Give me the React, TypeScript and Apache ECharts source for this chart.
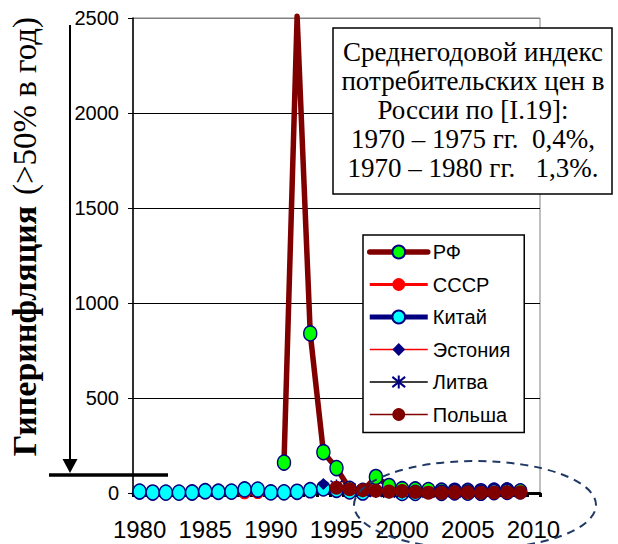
import React, { useEffect, useRef } from 'react';
import * as echarts from 'echarts';

const YEARS = [
  '1980', '1981', '1982', '1983', '1984', '1985', '1986', '1987', '1988', '1989',
  '1990', '1991', '1992', '1993', '1994', '1995', '1996', '1997', '1998', '1999',
  '2000', '2001', '2002', '2003', '2004', '2005', '2006', '2007', '2008', '2009', '2010',
];
const X_LABELS_EVERY = 5;
const Y_TICKS = [0, 500, 1000, 1500, 2000, 2500];

// Россия (РФ), 1991–2009
const RF_FROM = 1991;
const RF = [160, 2509, 840, 215, 131, 22, 11, 84, 36.5, 20.2, 18.6, 15.1, 12, 11.7, 10.9, 9, 11.9, 13.3, 8.8];
// СССР, 1980–1990
const USSR_FROM = 1980;
const USSR = [3, 1.5, 2.5, 1, 1.5, 1, 2, 1, 1, 2, 5.3];
// Китай, 1980–2009
const CHINA_FROM = 1980;
const CHINA = [7.5, 2.5, 2, 2, 2.7, 9.3, 6.5, 7.3, 18.8, 18, 3.1, 3.4, 6.4, 14.7, 24.1, 17.1, 8.3, 2.8, -0.8, -1.4, 0.4, 0.7, -0.8, 1.2, 3.9, 1.8, 1.5, 4.8, 5.9, -0.7];
// Эстония, 1994–2009
const ESTONIA_FROM = 1994;
const ESTONIA = [48, 29, 23.1, 11.2, 8.2, 3.3, 4, 5.8, 3.6, 1.4, 3, 4.1, 4.4, 6.6, 10.4, -0.1];
// Литва, 1995–2009
const LITHUANIA_FROM = 1995;
const LITHUANIA = [39.6, 24.6, 8.9, 5.1, 0.8, 1, 1.3, 0.3, -1.2, 1.2, 2.7, 3.8, 5.8, 11.1, 4.2];
// Польша, 1995–2009
const POLAND_FROM = 1995;
const POLAND = [27.8, 19.9, 14.9, 11.8, 7.3, 10.1, 5.5, 1.9, 0.8, 3.5, 2.1, 1, 2.5, 4.2, 3.5];

const NOTE_LINES = [
  'Среднегодовой индекс',
  'потребительских цен в',
  'России по [I.19]:',
  '1970 – 1975 гг.  0,4%,',
  '1970 – 1980 гг.   1,3%.',
];
const Y_TITLE_BOLD = 'Гиперинфляция';
const Y_TITLE_NOTE = '(>50% в год)';

function align(from: number, vals: number[]) {
  return YEARS.map((y) => {
    const i = Number(y) - from;
    return i >= 0 && i < vals.length ? vals[i] : null;
  });
}

const SANS = '"Liberation Sans", Arial, sans-serif';
const SERIF = '"Liberation Serif", "Times New Roman", serif';

export default function App() {
  const ref = useRef<HTMLDivElement>(null);
  useEffect(() => {
    if (!ref.current) return;
    const chart = echarts.init(ref.current, undefined, { renderer: 'svg' });
    const rfMax = Math.max(...RF);
    const rfData = align(RF_FROM, RF).map((v) =>
      v === rfMax ? { value: v, symbol: 'none' } : v
    );
    const option: any = {
      animation: false,
      grid: {
        left: 133, right: 78, top: 18, bottom: 51,
        show: true, borderColor: '#808080', borderWidth: 1, backgroundColor: 'transparent',
      },
      xAxis: {
        type: 'category',
        data: YEARS,
        boundaryGap: true,
        axisLine: { lineStyle: { color: '#000', width: 3 } },
        axisTick: { show: true, interval: 0, length: 4, lineStyle: { color: '#000', width: 3 } },
        axisLabel: {
          interval: X_LABELS_EVERY - 1, color: '#000', fontSize: 24, fontFamily: SANS, margin: 24,
        },
        splitLine: { show: false },
      },
      yAxis: {
        type: 'value',
        min: Y_TICKS[0],
        max: Y_TICKS[Y_TICKS.length - 1],
        interval: Y_TICKS[1] - Y_TICKS[0],
        axisLine: { show: true, lineStyle: { color: '#000', width: 1.5 } },
        axisTick: { show: true, length: 5, lineStyle: { color: '#000', width: 1 } },
        axisLabel: {
          color: '#000', fontSize: 20, fontFamily: SANS, margin: 14,
          formatter: (v: number) => String(v),
        },
        splitLine: {
          show: true,
          lineStyle: { color: ['#000', '#000', '#000', '#000', '#000', '#808080'], width: 1 },
        },
      },
      legend: {
        orient: 'vertical',
        left: 363,
        top: 235,
        padding: [7, 14, 8, 4],
        itemGap: 12.5,
        itemWidth: 58,
        itemHeight: 16,
        backgroundColor: '#fff',
        borderColor: '#000',
        borderWidth: 1.5,
        borderRadius: 0,
        z: 12,
        textStyle: { fontSize: 20, fontFamily: SANS, color: '#000', lineHeight: 20 },
        data: [
          { name: 'РФ', lineStyle: { width: 5.5 } },
          { name: 'СССР', lineStyle: { width: 3 } },
          { name: 'Китай', lineStyle: { width: 5 } },
          { name: 'Эстония', lineStyle: { width: 1.5 } },
          { name: 'Литва', lineStyle: { width: 1.5 } },
          { name: 'Польша', lineStyle: { width: 1.5 } },
        ],
      },
      graphic: [
        {
          type: 'rect', z: 10,
          shape: { x: 333, y: 28, width: 279, height: 166 },
          style: { fill: '#fff', stroke: '#000', lineWidth: 1.5 },
        },
        {
          type: 'text', z: 11, x: 473, y: 110,
          style: {
            text: NOTE_LINES.join('\n'),
            fontSize: 27, fontFamily: SERIF, lineHeight: 29, fill: '#000',
            align: 'center', verticalAlign: 'middle',
            textAlign: 'center', textVerticalAlign: 'middle',
          },
        },
        {
          type: 'text', z: 11, x: 24, y: 331, rotation: Math.PI / 2,
          style: {
            text: Y_TITLE_BOLD,
            font: 'bold 34px "Liberation Serif", "Times New Roman", serif',
            fill: '#000',
            align: 'center', verticalAlign: 'middle',
            textAlign: 'center', textVerticalAlign: 'middle',
          },
        },
        {
          type: 'text', z: 11, x: 25, y: 106, rotation: Math.PI / 2,
          style: {
            text: Y_TITLE_NOTE,
            font: '33px "Liberation Serif", "Times New Roman", serif',
            fill: '#000',
            align: 'center', verticalAlign: 'middle',
            textAlign: 'center', textVerticalAlign: 'middle',
          },
        },
        {
          type: 'line', z: 11,
          shape: { x1: 70, y1: 25, x2: 70, y2: 462 },
          style: { stroke: '#000', lineWidth: 2 },
        },
        {
          type: 'polygon', z: 11,
          shape: { points: [[62.5, 459], [77.5, 459], [70, 473]] },
          style: { fill: '#000' },
        },
        {
          type: 'line', z: 11,
          shape: { x1: 49, y1: 475, x2: 168, y2: 475 },
          style: { stroke: '#000', lineWidth: 3.5 },
        },
        {
          type: 'ellipse', z: 20,
          shape: { cx: 475, cy: 505, rx: 121, ry: 44 },
          style: { fill: 'none', stroke: '#1f3864', lineWidth: 2, lineDash: [8, 6] },
        },
      ],
      series: [
        {
          name: 'РФ', type: 'line', data: rfData, clip: false, showAllSymbol: true,
          symbol: 'circle', symbolSize: [13, 15],
          itemStyle: { color: '#00ff00', borderColor: '#000080', borderWidth: 1.5 },
          lineStyle: { color: '#800000', width: 5.5, join: 'round', cap: 'round' },
        },
        {
          name: 'СССР', type: 'line', data: align(USSR_FROM, USSR), showAllSymbol: true,
          symbol: 'circle', symbolSize: 13,
          itemStyle: { color: '#ff0000' },
          lineStyle: { color: '#ff0000', width: 3, join: 'round' },
        },
        {
          name: 'Китай', type: 'line', data: align(CHINA_FROM, CHINA), showAllSymbol: true,
          symbol: 'circle', symbolSize: [13, 15],
          itemStyle: { color: '#00ffff', borderColor: '#000080', borderWidth: 1.5 },
          lineStyle: { color: '#000080', width: 5, join: 'round' },
        },
        {
          name: 'Эстония', type: 'line', data: align(ESTONIA_FROM, ESTONIA), showAllSymbol: true,
          symbol: 'diamond', symbolSize: 12,
          itemStyle: { color: '#000080' },
          lineStyle: { color: '#ff0000', width: 1.5 },
        },
        {
          name: 'Литва', type: 'line', data: align(LITHUANIA_FROM, LITHUANIA), showAllSymbol: true,
          symbol: 'path://M5,0L5,10M0,1L10,9M0,9L10,1', symbolSize: 12,
          itemStyle: { color: 'none', borderColor: '#000080', borderWidth: 1.5 },
          lineStyle: { color: '#000', width: 1.5 },
        },
        {
          name: 'Польша', type: 'line', data: align(POLAND_FROM, POLAND), showAllSymbol: true,
          symbol: 'circle', symbolSize: 14,
          itemStyle: { color: '#800000' },
          lineStyle: { color: '#800000', width: 1.5 },
        },
      ],
    };
    chart.setOption(option);
    return () => chart.dispose();
  }, []);
  return (
    <div
      ref={ref}
      style={{ position: 'fixed', left: 0, top: 0, width: 618, height: 544, background: '#fff' }}
    />
  );
}
